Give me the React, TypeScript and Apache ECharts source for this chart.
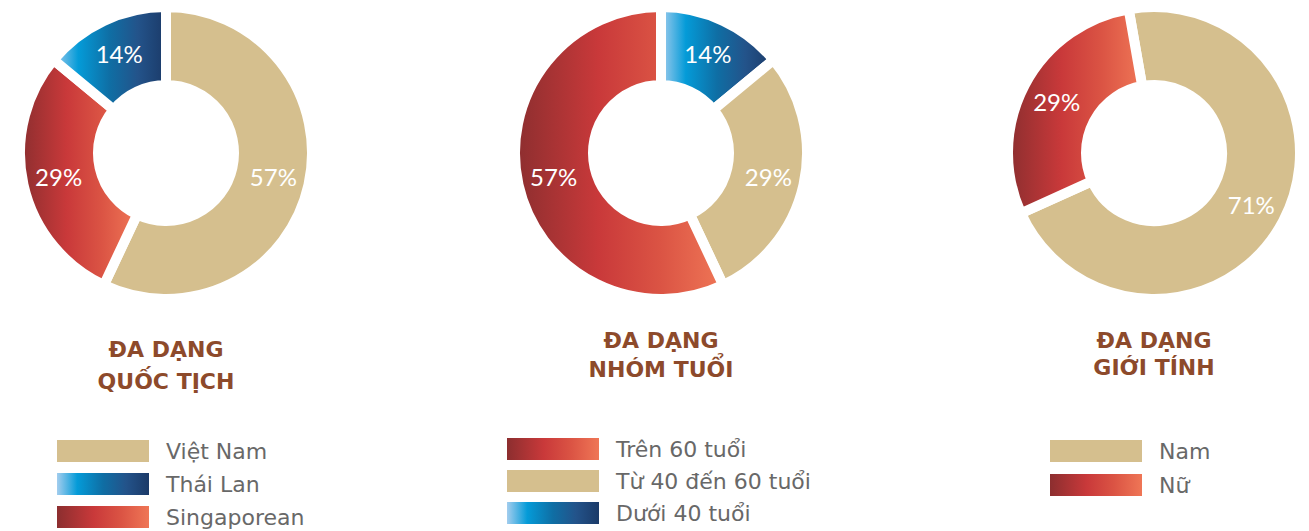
import React, { useEffect, useRef } from "react";
import * as echarts from "echarts";

// ---- Data ----
const nationalityNames = ["Việt Nam", "Singaporean", "Thái Lan"];
const nationalityValues = [57, 29, 14];
const nationalityLegend = ["Việt Nam", "Thái Lan", "Singaporean"];

const ageNames = ["Dưới 40 tuổi", "Từ 40 đến 60 tuổi", "Trên 60 tuổi"];
const ageValues = [14, 29, 57];
const ageLegend = ["Trên 60 tuổi", "Từ 40 đến 60 tuổi", "Dưới 40 tuổi"];

const genderNames = ["Nam", "Nữ"];
const genderValues = [71, 29];
const genderLegend = ["Nam", "Nữ"];

const titleLines = [
  ["ĐA DẠNG", "QUỐC TỊCH"],
  ["ĐA DẠNG", "NHÓM TUỔI"],
  ["ĐA DẠNG", "GIỚI TÍNH"],
];

// ---- Styles ----
const TAN = "#d5bf8e";
const redGrad = () =>
  new echarts.graphic.LinearGradient(0, 0, 1, 0, [
    { offset: 0, color: "#8c2e2f" },
    { offset: 0.4, color: "#c9393a" },
    { offset: 0.7, color: "#db5444" },
    { offset: 1, color: "#ef7656" },
  ]);
const blueGrad = () =>
  new echarts.graphic.LinearGradient(0, 0, 1, 0, [
    { offset: 0, color: "#a3cdee" },
    { offset: 0.22, color: "#049bd8" },
    { offset: 0.5, color: "#0f6ea4" },
    { offset: 0.75, color: "#23538a" },
    { offset: 1, color: "#1b3a68" },
  ]);

const colorFor: Record<string, () => any> = {
  "Việt Nam": () => TAN,
  Singaporean: redGrad,
  "Thái Lan": blueGrad,
  "Dưới 40 tuổi": blueGrad,
  "Từ 40 đến 60 tuổi": () => TAN,
  "Trên 60 tuổi": redGrad,
  Nam: () => TAN,
  Nữ: redGrad,
};

const centers = [
  [166, 153],
  [661, 153],
  [1154, 153],
];
const startAngles = [90, 90, 100];

function buildData(names: string[], values: number[]) {
  return names.map((n, i) => ({
    name: n,
    value: values[i],
    itemStyle: { color: colorFor[n]() },
  }));
}

export default function App() {
  const ref = useRef<HTMLDivElement>(null);

  useEffect(() => {
    if (!ref.current) return;
    const chart = echarts.init(ref.current, null, { renderer: "svg" });

    const datasets = [
      buildData(nationalityNames, nationalityValues),
      buildData(ageNames, ageValues),
      buildData(genderNames, genderValues),
    ];

    const series = datasets.map((d, i) => ({
      type: "pie",
      center: centers[i],
      radius: [68, 146],
      startAngle: startAngles[i],
      clockwise: true,
      avoidLabelOverlap: false,
      itemStyle: { borderColor: "#ffffff", borderWidth: 10 },
      label: {
        show: true,
        position: "inside",
        formatter: "{c}%",
        color: "#ffffff",
        fontFamily: "Lato, 'Noto Sans', sans-serif",
        fontWeight: "normal",
        fontSize: 24,
      },
      labelLine: { show: false },
      emphasis: { disabled: true },
      data: d,
    }));

    const legendLefts = [57, 507, 1050];
    const legendTops = [440, 438, 440];
    const legendGaps = [11, 10, 12];
    const legendData = [nationalityLegend, ageLegend, genderLegend];
    const legends = legendData.map((ld, i) => ({
      data: ld,
      orient: "vertical",
      left: legendLefts[i],
      top: legendTops[i],
      height: 200,
      itemWidth: 92,
      itemHeight: 22,
      itemGap: legendGaps[i],
      padding: 0,
      icon: "rect",
      selectedMode: false,
      itemStyle: { borderWidth: 0 },
      textStyle: {
        fontFamily: "'DejaVu Sans', sans-serif",
        fontSize: 22,
        color: "#686868",
        padding: [0, 0, 0, 12],
      },
    }));

    const titleYs = [
      [349, 381],
      [340, 369],
      [340, 367],
    ];
    const graphics: any[] = [];
    titleLines.forEach((lines, i) => {
      lines.forEach((t, j) => {
        graphics.push({
          type: "text",
          x: centers[i][0],
          y: titleYs[i][j],
          style: {
            text: t,
            fill: "#8d4a2b",
            font: "bold 22px 'DejaVu Sans', sans-serif",
            textAlign: "center",
            textVerticalAlign: "middle",
          },
        });
      });
    });

    chart.setOption({
      animation: false,
      backgroundColor: "#ffffff",
      tooltip: { show: false },
      legend: legends,
      graphic: graphics,
      series,
    });

    return () => chart.dispose();
  }, []);

  return (
    <div
      ref={ref}
      style={{ position: "absolute", left: 0, top: 0, width: 1309, height: 531 }}
    />
  );
}
